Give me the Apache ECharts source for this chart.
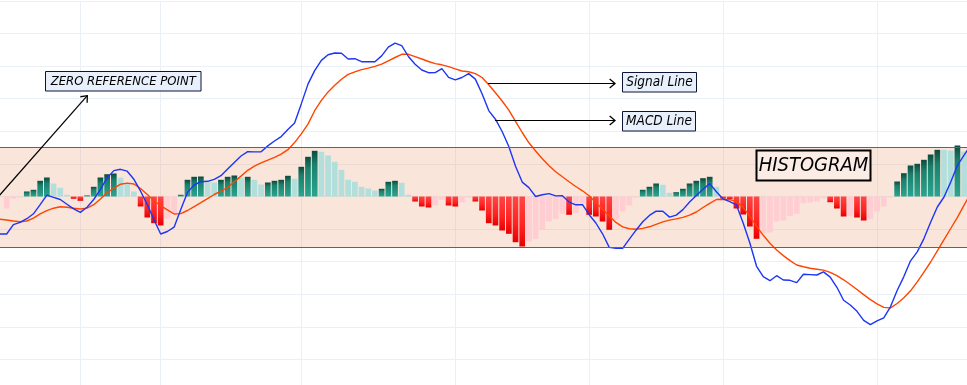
<!DOCTYPE html>
<html><head><meta charset="utf-8">
<script src="https://cdn.jsdelivr.net/npm/echarts@6/dist/echarts.min.js"></script>
<style>html,body{margin:0;padding:0;background:#fff;overflow:hidden}#c{width:967px;height:385px;}</style>
</head><body><div id="c"></div>
<script>
// ---- data (one entry per trading session; first and last are padding sessions off-screen) ----
const categories = Array.from({length: 146}, (_, k) => 'S' + k);

const macdLine = [
 -37.5,-37.5,-28.1,-25.9,-22.2,-17.3,-8.2,1.4,-0.9,-3,
 -7.7,-12.4,-15.9,-10.8,-3,7.2,18.6,25.9,27.2,25.3,
 17.2,5.3,-8.1,-23.2,-37.5,-35,-30.7,-13,4.1,11.5,
 14.8,15.2,17.2,20.8,27.5,34.1,40.5,44.8,44.6,44.8,
 50.6,55.5,59.9,67.1,73.5,92.6,112.4,125.9,136.1,141.7,
 143.5,143.2,137.5,137.8,134.8,134.8,134.8,140.6,149.4,153.4,
 150.9,140,132.2,126.5,123.8,123.9,127.9,119.1,116.6,119,
 122.9,117.4,102.7,85.9,77.3,65,50,30.3,14.4,8.9,
 0,1.7,2.9,0.6,0.8,-5.6,-8.3,-8.1,-18.2,-26.5,
 -37.3,-50.9,-51.7,-51.8,-42.6,-33.7,-25.3,-18.9,-14.6,-14.7,
 -20.6,-18.6,-13.1,-5.5,1.1,7.3,12.9,4.8,-2.4,-5.1,
 -8.4,-26.5,-46.5,-69.8,-80.2,-84.2,-79.2,-83.5,-83.8,-86.1,
 -77.8,-78.1,-78.5,-75.4,-80.6,-90.8,-103.8,-108.5,-114.8,-123.9,
 -128.2,-124.3,-121.3,-110.3,-94,-80.1,-64.3,-55.4,-42.1,-25.7,
 -10.5,-0.5,14.4,31.1,41.3,51.5
];

const signalLine = [
 -22.8,-23.5,-24.5,-25.2,-24.5,-21.7,-17.4,-14.1,-11.7,-10.2,
 -10.8,-11.8,-12.5,-11.6,-8.2,-2.5,4,8.2,12.3,13.4,
 12.5,8,1.9,-4.3,-9.2,-13.3,-17.5,-17.1,-14,-10.1,
 -6.2,-2.1,2,5.3,9,14.7,20.4,26.2,30.4,33.6,
 36.3,39.1,42.3,46.8,53.9,62.6,72.4,85.8,96.1,104.6,
 111.3,117.2,122.1,124.6,126.9,128.4,130.1,132.3,135.7,139,
 142.2,142.2,139.9,137.5,135,132.9,131.7,129.8,127.6,125.5,
 124.7,122.9,119,111.8,103.8,95.5,86.3,75.2,64,53.7,
 45.5,37.7,30.8,24.7,19.7,14.8,10,5.7,0.7,-6.1,
 -12.8,-19.5,-25.9,-30.4,-32.2,-32.7,-31.9,-30.3,-27.8,-25.4,
 -23.6,-22.4,-20.9,-18.7,-15.5,-11,-6.8,-3,-2.8,-3.2,
 -5.1,-10.8,-19.9,-29.7,-38.8,-46.8,-53.5,-59.1,-64.1,-68.5,
 -70.2,-71.8,-72.7,-73.6,-75.8,-79.1,-83.3,-88,-93,-98.1,
 -103.1,-107.4,-110.9,-111.4,-107,-101.2,-94.3,-85.3,-75.7,-65.5,
 -54.4,-43.2,-32,-20.8,-8.6,3.5
];

const histogram = [
 null,
 -12,-2.3,-1,5,6.7,15.7,19,13,8.7,1.7,
 -2.3,-4.3,1,9.7,19,22.3,23,19,12.7,5,
 -10,-21,-26.7,-29,-22.3,-16.7,1.7,16.7,19.7,20,
 15.3,14,16.7,19.7,21,19,19.7,16.7,12,14,
 15.7,16.7,20.7,17.7,29.7,39.7,45.7,44.7,41,34.7,
 26.7,16.7,14.7,9.7,8,6,7.7,14.7,15.7,13.7,
 1.7,-5,-10,-11,-9,-3.3,-9,-10,-6,-1,
 -5,-14,-26.7,-29,-34,-37.3,-45.7,-50,-45,-42.3,
 -33.3,-25,-22.3,-17.3,-18.3,-16.7,-7.3,-18.3,-20,-25,
 -33.3,-23.3,-15,-9,-1,6.7,9.7,13,11.7,3.7,
 4.3,7.7,13,15.7,18.3,19.7,9.7,-2,-2.7,-12,
 -18,-30,-42.3,-37.3,-36,-25,-24,-19.3,-17.3,-6.7,
 -6,-5,-2,-5.7,-12,-20,-19.3,-21,-24,-22.7,
 -15,-10,-1,15,23.3,31,32.7,36.7,42,46.7,
 46.5,46,51,45,
 null
];

// sessions where a vertical grid line is drawn (month starts)
const gridSessions = [12, 24, 45, 68, 88, 108, 131];
// highlighted histogram zone (value bounds)
const zoneTop = 49.2, zoneBottom = -50.8;

// ---- styling ----
const G = echarts.graphic;
const darkGreen = new G.LinearGradient(0,0,0,1,[{offset:0,color:'#0d4a3c'},{offset:0.3,color:'#1a816d'},{offset:1,color:'#2aa590'}]);
const lightGreen = '#b2dfdb';
const red = new G.LinearGradient(0,0,0,1,[{offset:0,color:'#ff4646'},{offset:0.6,color:'#ff2222'},{offset:1,color:'#e60000'}]);
const pink = '#ffcdd2';

const barData = histogram.map((v, k) => {
  if (v == null) return null;
  const prev = (k > 0 && histogram[k-1] != null) ? histogram[k-1] : -Infinity;
  let c;
  if (v >= 0) c = (v >= prev) ? darkGreen : lightGreen;
  else c = (v <= prev) ? red : pink;
  return {value: v, itemStyle: {color: c}};
});

const step = 32.6;
const chart = echarts.init(document.getElementById('c'), null, {renderer: 'canvas'});
const italicFont = '"DejaVu Sans Condensed","DejaVu Sans",sans-serif';
const ZZ = 100;

function box(x, y, w, h, text, fs, weight, fill, stroke, lw) {
  return [
    {type: 'rect', z: ZZ, silent: true, shape: {x: x, y: y, width: w, height: h}, style: {fill: fill, stroke: stroke, lineWidth: lw}},
    {type: 'text', z: ZZ + 1, silent: true, x: x + w/2, y: y + h/2 + 0.5,
      style: {text: text, fill: '#000', font: 'italic ' + weight + ' ' + fs + 'px ' + italicFont, align: 'center', verticalAlign: 'middle'}}
  ];
}
function arrowLine(x1, y1, x2, y2) {
  const dx = x2 - x1, dy = y2 - y1, L = Math.hypot(dx, dy);
  const ux = -dx / L, uy = -dy / L, len = 7, a = 0.7;
  const c = Math.cos(a), s = Math.sin(a);
  const w1 = [x2 + len*(ux*c - uy*s), y2 + len*(ux*s + uy*c)];
  const w2 = [x2 + len*(ux*c + uy*s), y2 + len*(-ux*s + uy*c)];
  return [
    {type: 'line', z: ZZ, silent: true, shape: {x1: x1, y1: y1, x2: x2, y2: y2}, style: {stroke: '#000', lineWidth: 1.2}},
    {type: 'polyline', z: ZZ, silent: true, shape: {points: [w1, [x2, y2], w2]}, style: {stroke: '#000', lineWidth: 1.3, fill: null}}
  ];
}

chart.setOption({
  animation: false,
  backgroundColor: '#ffffff',
  grid: {left: 0, right: -3.8, top: 0.9, bottom: -7.1, containLabel: false, outerBoundsMode: 'none'},
  xAxis: {
    type: 'category', data: categories, boundaryGap: false,
    axisLine: {show: false}, axisTick: {show: false}, axisLabel: {show: false},
    splitLine: {show: true, interval: (idx) => gridSessions.indexOf(idx) >= 0, lineStyle: {color: '#ebeff6', width: 1}}
  },
  yAxis: {
    type: 'value', min: -6*step, max: 6*step, interval: step,
    axisLine: {show: false}, axisTick: {show: false}, axisLabel: {show: false},
    splitLine: {show: true, lineStyle: {color: '#ebeff6', width: 1}}
  },
  series: [
    {
      type: 'bar', data: barData, barWidth: 5.7, silent: true,
      markArea: {silent: true, itemStyle: {color: 'rgba(235,151,107,0.25)'}, data: [[{yAxis: zoneTop}, {yAxis: zoneBottom}]]},
      markLine: {silent: true, symbol: 'none', label: {show: false}, lineStyle: {color: '#6b605c', width: 1, type: 'solid'},
        data: [{yAxis: zoneTop}, {yAxis: zoneBottom}]}
    },
    {type: 'line', data: signalLine, showSymbol: false, smooth: false, silent: true, lineStyle: {color: '#ff4500', width: 1.4}, z: 3},
    {type: 'line', data: macdLine, showSymbol: false, smooth: false, silent: true, lineStyle: {color: '#1d35f5', width: 1.4}, z: 4}
  ],
  graphic: [].concat(
    arrowLine(-2, 197, 87.3, 95.7),
    box(45.5, 71.5, 155.5, 19.5, 'ZERO REFERENCE POINT', 13, 'normal', '#e8f0fb', '#0b1436', 1),
    arrowLine(488, 83.5, 615, 83.5),
    box(622.5, 72.5, 74, 19.5, 'Signal Line', 13.5, 'normal', '#e8f0fb', '#0b1436', 1),
    arrowLine(495, 120.5, 615, 120.5),
    box(622.5, 111.5, 73, 19.5, 'MACD Line', 13.5, 'normal', '#e8f0fb', '#0b1436', 1),
    box(756.5, 150.5, 114, 30, 'HISTOGRAM', 20, 'normal', '#fbece6', '#000000', 2)
  )
});
</script>
</body></html>
